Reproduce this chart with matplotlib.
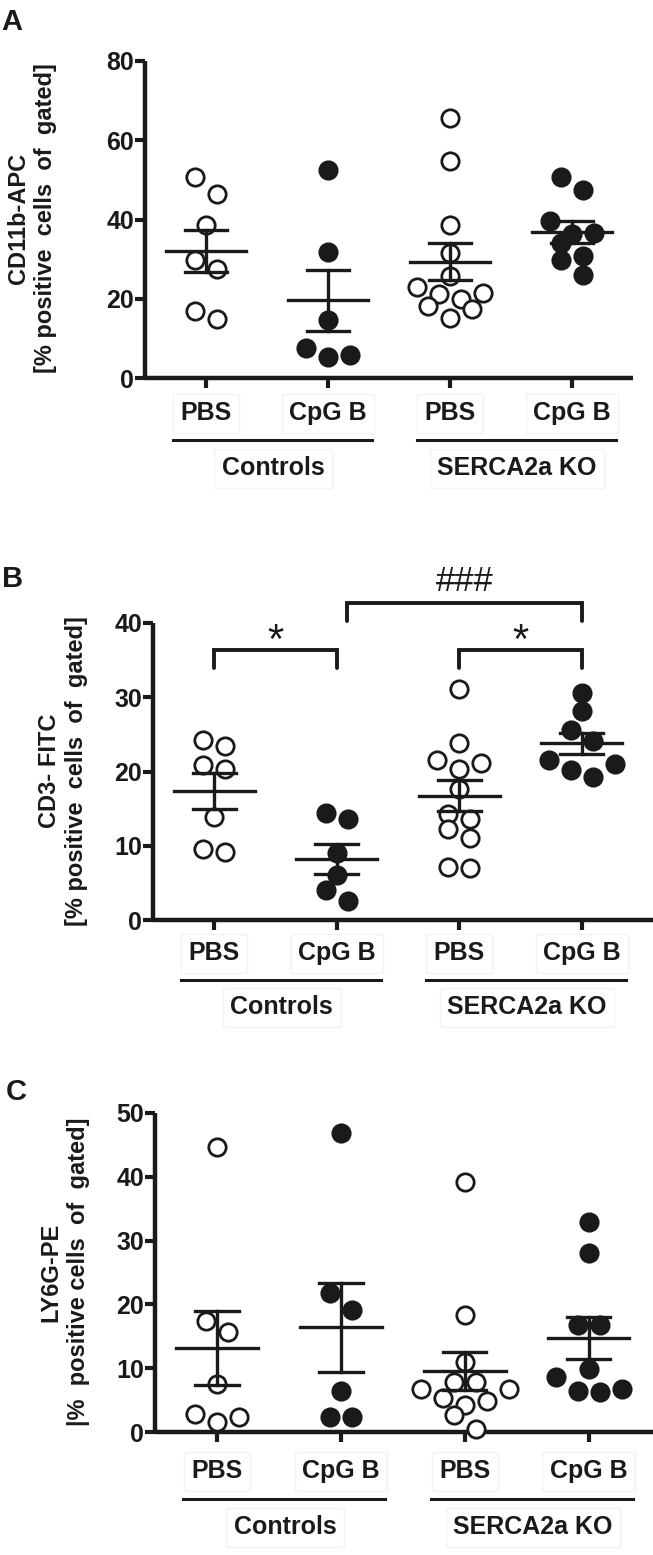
import numpy as np
import matplotlib
matplotlib.use('Agg')
import matplotlib.pyplot as plt
from matplotlib.transforms import ScaledTranslation

plt.rcParams['font.family'] = ['Liberation Sans', 'DejaVu Sans']
plt.rcParams['font.weight'] = 'bold'

# ---- data ----
treatments = ['PBS', 'CpG B', 'PBS', 'CpG B']
cohorts = ['Controls', 'SERCA2a KO']
filled = [False, True, False, True]

# A: CD11b-APC
cd11b_ctrl_pbs = [50.7, 46.4, 38.6, 29.7, 27.5, 16.8, 15.0]
cd11b_ctrl_cpg = [52.5, 31.9, 14.6, 7.5, 5.3, 5.7]
cd11b_ko_pbs = [65.7, 54.8, 38.6, 31.5, 25.8, 22.9, 21.2, 21.4, 19.9, 18.2, 17.4, 15.1]
cd11b_ko_cpg = [50.7, 47.5, 39.6, 36.3, 36.6, 34.1, 30.8, 29.9, 26.0]

# B: CD3- FITC
cd3_ctrl_pbs = [24.3, 23.5, 20.4, 20.9, 13.9, 9.1, 9.6]
cd3_ctrl_cpg = [14.4, 13.6, 9.0, 6.1, 4.0, 2.5]
cd3_ko_pbs = [31.1, 23.8, 21.6, 21.2, 20.3, 17.6, 14.3, 13.6, 12.3, 11.0, 7.0, 7.2]
cd3_ko_cpg = [30.6, 28.1, 25.6, 24.1, 21.0, 21.6, 19.3, 20.2]

# C: LY6G-PE
ly6g_ctrl_pbs = [44.6, 17.4, 15.6, 7.6, 2.8, 1.6, 2.3]
ly6g_ctrl_cpg = [46.8, 21.8, 19.1, 6.4, 2.3, 2.3]
ly6g_ko_pbs = [39.2, 18.3, 11.0, 7.9, 7.9, 6.7, 6.7, 5.4, 4.9, 4.3, 2.7, 0.4]
ly6g_ko_cpg = [32.9, 28.0, 16.7, 16.7, 9.8, 8.6, 6.8, 6.2, 6.4]

W, H = 653, 1555
fig = plt.figure(figsize=(W / 100, H / 100), dpi=100)

LW = 2.4
MS = 12.5
INK = '#1a1a1a'


def swarm_offsets(ax, x0, vals, diam=17.0, step=22.0):
    """GraphPad-like column scatter: bin points into rows, spread each row."""
    vals = np.asarray(vals, dtype=float)
    order = np.argsort(vals, kind='stable')
    ypix = ax.transData.transform(np.column_stack([np.full(len(vals), x0), vals]))[:, 1]
    px_per_x = ax.transData.transform([(1, 0)])[0, 0] - ax.transData.transform([(0, 0)])[0, 0]
    offs = np.zeros(len(vals))
    i = 0
    while i < len(order):
        row = [order[i]]
        j = i + 1
        while j < len(order) and ypix[order[j]] - ypix[order[i]] < diam * 1.05:
            row.append(order[j])
            j += 1
        n = len(row)
        if n % 2:
            slots = [0] + [s * k for k in range(1, n // 2 + 1) for s in (1, -1)]
        else:
            slots = [s * (k - 0.5) for k in range(1, n // 2 + 1) for s in (1, -1)]
        for idx, sl in zip(row, slots):
            offs[idx] = sl * step / px_per_x
        i = j
    return offs


def panel(rect, xlim, ymax, ystep, series, ylabel, ylab_xy, letter, letter_xy,
          offs_px):
    ax = fig.add_axes(rect)
    ax.set_xlim(*xlim)
    ax.set_ylim(0, ymax)
    for s in ['top', 'right']:
        ax.spines[s].set_visible(False)
    for s in ['left', 'bottom']:
        ax.spines[s].set_linewidth(3.2)
        ax.spines[s].set_color(INK)
        ax.spines[s].set_capstyle('butt')
    ax.set_yticks(np.arange(0, ymax + 1, ystep))
    pos = np.arange(1, len(series) + 1)
    ax.set_xticks(pos)
    ax.set_xticklabels([])
    ax.tick_params(axis='both', width=3, length=7, direction='out', color=INK)
    ax.tick_params(axis='y', labelsize=18, pad=1, labelcolor=INK)
    for t in ax.get_yticklabels():
        t.set_fontweight('bold')

    for p, vals, f in zip(pos, series, filled):
        vals = np.asarray(vals)
        xo = p + swarm_offsets(ax, p, vals)
        ax.plot(xo, vals, 'o', ms=MS, mew=2.0, mec=INK,
                mfc=INK if f else 'white', ls='none', clip_on=False, zorder=3)
        m = vals.mean()
        sem = vals.std(ddof=1) / np.sqrt(len(vals))
        ax.plot([p - 0.33, p + 0.33], [m, m], color=INK, lw=LW, zorder=4)
        ax.plot([p, p], [m - sem, m + sem], color=INK, lw=LW, zorder=4)
        for yy in (m - sem, m + sem):
            ax.plot([p - 0.175, p + 0.175], [yy, yy], color=INK, lw=LW, zorder=4)

    # category labels below axis
    d1, d2, d3 = offs_px
    box = dict(boxstyle='square,pad=0.3', fc='none', ec='#f3f3f3', lw=1.0)
    for p, lab in zip(pos, treatments):
        ax.annotate(lab, xy=(p, 0), xycoords=ax.get_xaxis_transform(),
                    xytext=(0, -d1 * 0.72), textcoords='offset points',
                    ha='center', va='center', fontsize=18, fontweight='bold',
                    color=INK, bbox=box, annotation_clip=False)
    tr = ax.get_xaxis_transform() + ScaledTranslation(0, -d2 / 100, fig.dpi_scale_trans)
    for k, lab in enumerate(cohorts):
        a, b = pos[2 * k], pos[2 * k + 1]
        ax.plot([a - 0.27, b + 0.36], [0, 0], color=INK, lw=2.2,
                transform=tr, clip_on=False)
        ax.annotate(lab, xy=((a + b) / 2 + 0.05, 0), xycoords=ax.get_xaxis_transform(),
                    xytext=(0, -d3 * 0.72), textcoords='offset points',
                    ha='center', va='center', fontsize=18, fontweight='bold',
                    color=INK, bbox=box, annotation_clip=False)

    fig.text(ylab_xy[0] / W, 1 - ylab_xy[1] / H, ylabel, rotation=90,
             ha='center', va='center', ma='center', fontsize=17,
             fontweight='bold', linespacing=1.25, color=INK)
    fig.text(letter_xy[0] / W, 1 - letter_xy[1] / H, letter, ha='left', va='top',
             fontsize=21, fontweight='bold', color=INK)
    return ax


axA = panel([145 / W, 1 - 378 / H, 488 / W, 317 / H], (0.5, 4.5), 80, 20,
            [cd11b_ctrl_pbs, cd11b_ctrl_cpg, cd11b_ko_pbs, cd11b_ko_cpg],
            'CD11b-APC\n[% positive  cells  of  gated]', (32, 218), 'A', (1, 8),
            (35, 62, 90))

axB = panel([153 / W, 1 - 920 / H, 500 / W, 297 / H], (0.5, 4.58), 40, 10,
            [cd3_ctrl_pbs, cd3_ctrl_cpg, cd3_ko_pbs, cd3_ko_cpg],
            'CD3- FITC\n[% positive  cells  of  gated]', (63, 771), 'B', (2, 565),
            (33, 60, 87))

axC = panel([155 / W, 1 - 1432 / H, 498 / W, 319 / H], (0.5, 4.52), 50, 10,
            [ly6g_ctrl_pbs, ly6g_ctrl_cpg, ly6g_ko_pbs, ly6g_ko_cpg],
            'LY6G-PE\n|%  positive cells  of  gated]', (65, 1272), 'C', (6, 1078),
            (39, 67, 95))


# significance brackets in panel B
def bracket(ax, x1, x2, ylo, yhi, text, ty, fs, weight='normal'):
    ax.plot([x1, x1, x2, x2], [ylo, yhi, yhi, ylo], color=INK, lw=2.8,
            solid_capstyle='round', solid_joinstyle='miter', clip_on=False)
    ax.text((x1 + x2) / 2, ty, text, ha='center', va='center', fontsize=fs,
            fontweight=weight, color=INK, clip_on=False)


bracket(axB, 1, 2, 33.9, 36.3, '*', 37.4, 30)
bracket(axB, 3, 4, 33.9, 36.3, '*', 37.4, 30)
bracket(axB, 2.08, 4, 40.3, 42.7, '###', 45.6, 25)

fig.savefig('out.png', dpi=100)
